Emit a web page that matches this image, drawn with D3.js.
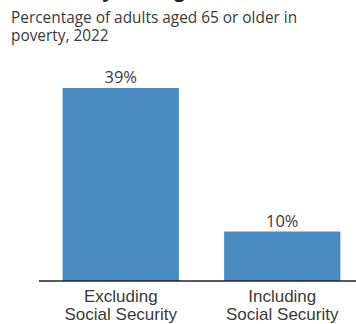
<!DOCTYPE html>
<html>
<head>
<meta charset="utf-8">
<script src="https://cdn.jsdelivr.net/npm/d3@7"></script>
<style>
  html, body { margin: 0; padding: 0; background: #fff; }
  svg { display: block; font-family: "Open Sans", "Noto Sans", sans-serif; }
</style>
</head>
<body>
<svg id="chart" width="356" height="324"></svg>
<script>
  // values
  const categories = [["Excluding", "Social Security"], ["Including", "Social Security"]];
  const values = [39, 10];
  const subtitleLines = ["Percentage of adults aged 65 or older in", "poverty, 2022"];
  const titleText = "Poverty Among Older Adults";

  const BAR = "#4a8bc1", TEXT = "#3a3a3a";
  const svg = d3.select("#chart");
  const W = 356, H = 324, m = { l: 39, t: 88, b: 43 };

  // headline, cropped by the top edge (only its descenders peek in)
  svg.append("text").attr("x", 40).attr("y", -3)
    .attr("font-size", 19).attr("font-weight", 700).attr("fill", "#222").text(titleText);

  svg.selectAll(".sub").data(subtitleLines).enter().append("text")
    .attr("x", 11).attr("y", (d, i) => 23 + i * 18)
    .attr("font-size", 15.4).attr("fill", TEXT).text((d) => d);

  const x = d3.scaleBand().domain(d3.range(values.length))
    .range([40, 363]).paddingInner(0.28).paddingOuter(0.14);
  const y = d3.scaleLinear().domain([0, 39]).range([H - m.b, m.t]);

  const g = svg.append("g");
  g.selectAll("rect").data(values).enter().append("rect")
    .attr("x", (d, i) => x(i)).attr("width", x.bandwidth())
    .attr("y", (d) => y(d)).attr("height", (d) => y(0) - y(d))
    .attr("fill", BAR);

  g.selectAll(".val").data(values).enter().append("text")
    .attr("x", (d, i) => x(i) + x.bandwidth() / 2).attr("y", (d) => y(d) - 5)
    .attr("text-anchor", "middle").attr("font-size", 16.5).attr("fill", TEXT)
    .text((d) => d + "%");

  const axis = d3.axisBottom(x).tickSize(0).tickPadding(0).tickFormat("");
  const ax = svg.append("g").attr("transform", `translate(0,${y(0)})`).call(axis);
  ax.select(".domain").attr("stroke", "#222").attr("stroke-width", 1.5)
    .attr("d", `M${m.l},0H${W}`);

  ax.selectAll(".tick").each(function (d) {
    const t = d3.select(this).append("text").attr("fill", TEXT)
      .attr("font-size", 17).attr("text-anchor", "middle");
    categories[d].forEach((line, i) => {
      t.append("tspan").attr("x", 0).attr("y", 21 + i * 18).text(line);
    });
  });
</script>
</body>
</html>
